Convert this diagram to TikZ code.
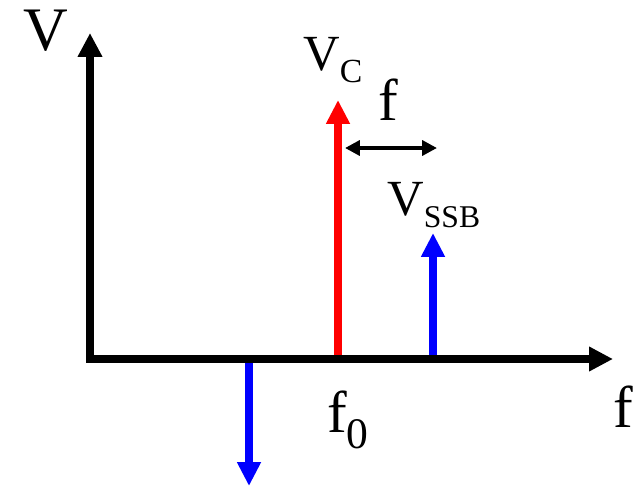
\documentclass[tikz,border=0pt]{standalone}
\usepackage{fontspec}
\setmainfont{Liberation Serif}
\usetikzlibrary{arrows.meta}

\begin{document}
\begin{tikzpicture}[x=0.025cm, y=-0.025cm,
	axis/.style={line width=5pt, draw=black, {Triangle[length=17pt,width=16.5pt]}-{Triangle[length=17pt,width=16.5pt]}},
	spike/.style={line width=5.2pt, -{Triangle[length=17pt,width=16pt]}},
	gap/.style={line width=2.8pt, {Triangle[length=10.5pt,width=10.5pt]}-{Triangle[length=10.5pt,width=10.5pt]}},
	lbl/.style={inner sep=0pt, anchor=base west}]
			\useasboundingbox (0,0) rectangle (643,488);
			\coordinate (o) at (90,359);
			\coordinate (ytop) at (90,33);
			\coordinate (xend) at (613,359);
			\coordinate (c0) at (338,359);
			\coordinate (ctop) at (338,100);
			\coordinate (u0) at (433,359);
			\coordinate (utop) at (433,233);
			\coordinate (l0) at (249,359);
			\coordinate (lbot) at (249,486);
			\coordinate (gl) at (345,148);
			\coordinate (gr) at (437,148);
			\draw[spike, draw=red] (c0) -- (ctop);
			\draw[spike, draw=blue] (u0) -- (utop);
			\draw[spike, draw=blue] (l0) -- (lbot);
			\draw[axis] (ytop) -- (o) -- (xend);
			\draw[gap] (gl) -- (gr);
			\node[lbl, font=\fontsize{44}{44}\selectfont] (vname) at (23,50) {V};
			\node[lbl, font=\fontsize{42}{42}\selectfont] (fname) at (613,427) {f};
			\node[lbl, font=\fontsize{42}{42}\selectfont] (fgap) at (378,120) {f};
			\node[lbl, font=\fontsize{42}{42}\selectfont] (fzero) at (327,432) {f\raisebox{-11.4pt}{\fontsize{31}{31}\selectfont 0}};
			\node[lbl, font=\fontsize{36}{36}\selectfont] (vc) at (303,70) {V\raisebox{-9.2pt}{\fontsize{24}{24}\selectfont C}};
			\node[lbl, font=\fontsize{36}{36}\selectfont] (vssb) at (387,215) {V\raisebox{-9.2pt}{\fontsize{22.5}{22.5}\selectfont SSB}};
\end{tikzpicture}
\end{document}
